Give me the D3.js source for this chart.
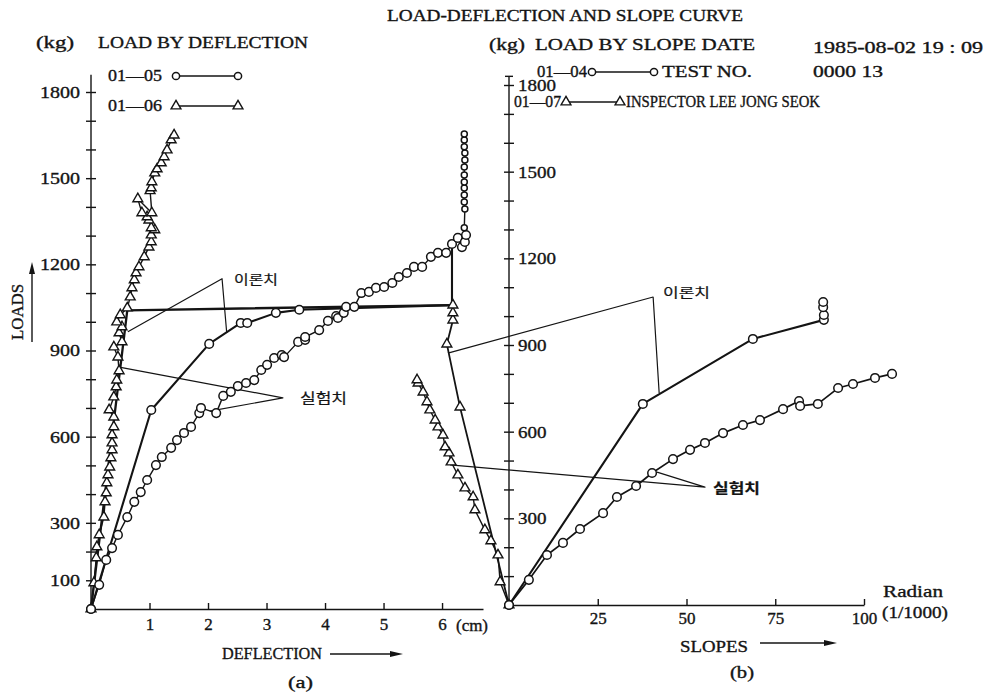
<!doctype html>
<html lang="en">
<head>
<meta charset="UTF-8">
<title>Load-Deflection and Slope Curve</title>
<script src="https://cdnjs.cloudflare.com/ajax/libs/d3/7.8.5/d3.min.js"></script>
<style>
    body { margin: 0; background: #fff; }
    svg { display: block; }
</style>
</head>
<body>
<svg id="chart" width="986" height="692"></svg>
<script>

// ---- tick labels
var leftXTicks = [1, 2, 3, 4, 5, 6];
var leftYLabels = [100, 300, 600, 900, 1200, 1500, 1800];
var rightXTicks = [25, 50, 75, 100];
var rightYLabels = [300, 600, 900, 1200, 1500, 1800];
var minorTicks = d3.range(100, 1900, 100);

// ---- (a) load by deflection  [cm, kg]
var defl0105Test = [[0,0],[0.14,84],[0.26,171],[0.36,212],[0.46,258],[0.62,320],[0.74,373],[0.85,407],[0.96,449],
    [1.11,501],[1.21,529],[1.37,561],[1.47,588],[1.59,613],[1.71,634],[1.85,682],[1.88,700],[2.14,682],[2.26,742],
    [2.39,756],[2.51,776],[2.65,787],[2.79,797],[2.91,832],[3.01,850],[3.13,874],[3.26,884],[3.30,877],[3.54,930],
    [3.66,937],[3.66,947],[3.90,971],[4.05,1003],[4.19,1020],[4.22,1013],[4.32,1031],[4.36,1052],[4.50,1052],
    [4.62,1100],[4.75,1104],[4.87,1118],[5.01,1121],[5.15,1135],[5.26,1156],[5.40,1170],[5.52,1191],[5.66,1191],
    [5.81,1226],[5.93,1240],[6.07,1240],[6.17,1271],[6.27,1292],[6.34,1260],[6.39,1278],[6.41,1302],[6.38,1327],
    [6.39,1393],[6.38,1417],[6.38,1441],[6.38,1466],[6.38,1487],[6.38,1511],[6.38,1539],[6.39,1563],[6.39,1588],
    [6.38,1609],[6.38,1633],[6.38,1654]];
var defl0105Theory = [[0,0],[1.03,693],[2.02,923],[2.56,996],[2.67,996],[3.16,1031],[3.56,1042],[6.17,1058],[6.17,1271]];
var defl0106Test = [[0,0],[0.05,91],[0.09,178],[0.10,216],[0.14,258],[0.22,320],[0.24,373],[0.26,404],[0.27,439],
    [0.29,467],[0.32,494],[0.34,526],[0.36,554],[0.36,578],[0.36,606],[0.39,634],[0.39,668],[0.31,693],[0.39,738],
    [0.43,773],[0.44,797],[0.48,829],[0.46,877],[0.39,912],[0.53,930],[0.48,961],[0.53,982],[0.44,999],[0.50,1024],
    [0.62,1048],[0.67,1086],[0.70,1118],[0.74,1146],[0.77,1170],[0.82,1191],[0.91,1226],[0.99,1260],[1.03,1278],
    [1.03,1302],[1.09,1320],[1.03,1327],[0.99,1354],[0.96,1365],[0.87,1379],[0.80,1428],[1.04,1379],[1.01,1456],
    [1.03,1466],[1.04,1487],[1.09,1518],[1.13,1532],[1.20,1553],[1.25,1574],[1.30,1598],[1.37,1633],[1.42,1650]];
var defl0106Theory = [[0,0],[0.62,1040],[6.17,1058]];

// ---- (b) load by slope  [1/1000 rad, kg]
var slope0104Test = [[0,0],[5.6,87],[10.7,173],[15.2,215],[20.0,263],[26.5,318],[30.4,374],[35.8,412],[40.3,457],
    [46.2,505],[51.0,537],[55.2,561],[60.3,595],[65.9,623],[70.7,640],[77.2,678],[81.7,706],[82.0,689],[87.0,696],
    [92.7,751],[96.9,765],[103.1,786],[107.9,800]];
var slope0104Theory = [[0,0],[37.7,696],[68.7,921],[88.7,987],[88.7,1004],[88.5,1031],[88.5,1049]];
var slope0107Test = [[0,0],[-2.5,80],[-3.1,173],[-5.1,222],[-6.8,260],[-9.6,329],[-10.1,374],[-12.4,405],[-14.4,450],
    [-16.3,495],[-16.9,526],[-18.0,547],[-18.6,588],[-20.0,616],[-20.8,640],[-22.3,675],[-23.1,703],[-24.2,737],
    [-25.6,768],[-25.9,779]];
var slope0107Theory = [[0,0],[-13.8,685],[-17.5,903],[-15.8,986],[-15.8,1011],[-15.8,1038]];

// ---- leader lines for the labels (data units of each panel)
var leftTheoryLeader = [[0.63,965],[2.24,1150],[2.32,961]];
var leftTestLeader = [[0.46,843],[3.28,735],[2.03,689]];
var rightTheoryLeader = [[-17.2,872],[40.6,1066],[42.3,734]];
var rightTestLeader = [[-16.6,485],[55.2,408],[41.7,460]];

var serif = '"Liberation Serif", "Times New Roman", serif';
var korean = '"Noto Sans CJK KR", sans-serif';
var ink = '#141414';

var svg = d3.select('#chart');
svg.append('rect').attr('width', 986).attr('height', 692).attr('fill', '#fff');

var xL = d3.scaleLinear().domain([0, 6.7]).range([91, 483]);
var yL = d3.scaleLinear().domain([0, 1800]).range([609, 92]);
var xR = d3.scaleLinear().domain([0, 100]).range([509, 864]);
var yR = d3.scaleLinear().domain([0, 1800]).range([605, 85]);

function label(x, y, str, w, size, family, weight) {
    var t = svg.append('text')
        .attr('x', x).attr('y', y)
        .attr('font-size', size || 16)
        .attr('font-family', family || serif)
        .attr('fill', ink)
        .attr('stroke', ink).attr('stroke-width', family ? 0.2 : 0.35)
        .text(str);
    if (w) t.attr('textLength', w).attr('lengthAdjust', 'spacingAndGlyphs');
    if (weight) t.attr('font-weight', weight);
    return t;
}

function styleAxis(g) {
    g.attr('font-family', serif).attr('font-size', 17);
    g.selectAll('line, path').attr('stroke', ink).attr('stroke-width', 1.4);
    g.selectAll('text').attr('fill', ink).attr('stroke', ink).attr('stroke-width', 0.35);
}

// ---- axes (a)
var gLY = svg.append('g').attr('transform', 'translate(' + xL(0) + ',0)')
    .call(d3.axisLeft(yL).tickValues(minorTicks).tickSize(5).tickSizeOuter(0)
        .tickFormat(function (d) { return leftYLabels.indexOf(d) >= 0 ? d : ''; }));
gLY.select('.domain').remove();
styleAxis(gLY);
gLY.selectAll('.tick line').attr('x1', 5);
gLY.selectAll('.tick text').attr('x', -11)
    .attr('textLength', function (d) { return leftYLabels.indexOf(d) >= 0 ? String(d).length * 10 : null; })
    .attr('lengthAdjust', 'spacingAndGlyphs');
svg.append('line').attr('x1', xL(0)).attr('x2', xL(0)).attr('y1', yL(0)).attr('y2', yL(1860))
    .attr('stroke', ink).attr('stroke-width', 1.4);

var gLX = svg.append('g').attr('transform', 'translate(0,' + yL(0) + ')')
    .call(d3.axisBottom(xL).tickValues(leftXTicks).tickFormat(d3.format('d'))
        .tickSize(-6).tickSizeOuter(0).tickPadding(9));
styleAxis(gLX);

// ---- axes (b)
var gRY = svg.append('g').attr('transform', 'translate(' + xR(0) + ',0)')
    .call(d3.axisRight(yR).tickValues(minorTicks).tickSize(5).tickSizeOuter(0)
        .tickFormat(function (d) { return rightYLabels.indexOf(d) >= 0 ? d : ''; }));
gRY.select('.domain').remove();
styleAxis(gRY);
gRY.selectAll('.tick line').attr('x1', -5);
gRY.selectAll('.tick text').attr('x', 9)
    .attr('textLength', function (d) { return rightYLabels.indexOf(d) >= 0 ? String(d).length * 9.5 : null; })
    .attr('lengthAdjust', 'spacingAndGlyphs');
svg.append('line').attr('x1', xR(0)).attr('x2', xR(0)).attr('y1', yR(0)).attr('y2', yR(1830))
    .attr('stroke', ink).attr('stroke-width', 1.4);
svg.append('line').attr('x1', xR(0) - 4).attr('x2', xR(0) + 4).attr('y1', yR(1830)).attr('y2', yR(1830))
    .attr('stroke', ink).attr('stroke-width', 1.4);

var gRX = svg.append('g').attr('transform', 'translate(0,' + yR(0) + ')')
    .call(d3.axisBottom(xR).tickValues(rightXTicks).tickSize(-6).tickSizeOuter(0).tickPadding(7));
styleAxis(gRX);

// ---- series
var lineL = d3.line().x(function (d) { return xL(d[0]); }).y(function (d) { return yL(d[1]); });
var lineR = d3.line().x(function (d) { return xR(d[0]); }).y(function (d) { return yR(d[1]); });
var tri = d3.symbol().type(d3.symbolTriangle).size(42)();

function drawLine(data, gen, width) {
    svg.append('path').datum(data).attr('d', gen)
        .attr('fill', 'none').attr('stroke', ink).attr('stroke-width', width)
        .attr('stroke-linejoin', 'round');
}

function drawMarks(data, xs, ys, shape, r) {
    var g = svg.append('g');
    if (shape === 'circle') {
        g.selectAll('circle').data(data).join('circle')
            .attr('cx', function (d) { return xs(d[0]); })
            .attr('cy', function (d) { return ys(d[1]); })
            .attr('r', r || 4.3)
            .attr('fill', '#fff').attr('stroke', ink).attr('stroke-width', 1.5);
    } else {
        g.selectAll('path').data(data).join('path')
            .attr('d', tri)
            .attr('transform', function (d) { return 'translate(' + xs(d[0]) + ',' + ys(d[1]) + ')'; })
            .attr('fill', '#fff').attr('stroke', ink).attr('stroke-width', 1.4);
    }
}

// leader lines
[[leftTheoryLeader, lineL], [leftTestLeader, lineL], [rightTheoryLeader, lineR], [rightTestLeader, lineR]]
    .forEach(function (p) { drawLine(p[0], p[1], 1.2); });

// theoretical lines (heavier)
drawLine(defl0105Theory, lineL, 2.1);
drawLine(defl0106Theory, lineL, 2.3);
drawLine(slope0104Theory, lineR, 2.1);
drawLine(slope0107Theory, lineR, 1.8);

// experimental lines
drawLine(defl0105Test, lineL, 1.4);
drawLine(defl0106Test, lineL, 1.4);
drawLine(slope0104Test, lineR, 1.7);
drawLine(slope0107Test, lineR, 1.4);

drawMarks(defl0106Test, xL, yL, 'tri');
// the last readings of 01-05 are printed smaller in the original plot
drawMarks(defl0105Test.filter(function (d) { return d[1] < 1320; }), xL, yL, 'circle');
drawMarks(defl0105Test.filter(function (d) { return d[1] >= 1320; }), xL, yL, 'circle', 3);
drawMarks(defl0105Theory.slice(0, 7), xL, yL, 'circle');
drawMarks(slope0107Test, xR, yR, 'tri');
drawMarks(slope0107Theory.slice(1), xR, yR, 'tri');
drawMarks(slope0104Test, xR, yR, 'circle');
drawMarks(slope0104Theory, xR, yR, 'circle');

// ---- titles and legend
label(387, 21, 'LOAD-DEFLECTION AND SLOPE CURVE', 356, 16);
label(36, 48, '(kg)', 38, 17);
label(98, 48, 'LOAD BY DEFLECTION', 210, 17);
label(489, 50, '(kg)', 36, 17);
label(535, 50, 'LOAD BY  SLOPE DATE', 220, 17);
label(813, 53, '1985-08-02 19 : 09', 170, 16);
label(813, 77, '0000 13', 70, 16);

function legendItem(x, y, x1, x2, shape, txt, tw) {
    label(x, y + 5, txt, tw, 16);
    svg.append('line').attr('x1', x1).attr('x2', x2).attr('y1', y).attr('y2', y)
        .attr('stroke', ink).attr('stroke-width', 1.7);
    var fake = d3.scaleLinear().domain([0, 1]).range([x1, x2]);
    var same = function () { return y; };
    drawMarks([[0, 0], [1, 0]], fake, same, shape, 3.6);
}
legendItem(108, 76, 176, 238, 'circle', '01\u201405', 54);
legendItem(108, 106, 176, 238, 'tri', '01\u201406', 54);
legendItem(537, 72, 592, 654, 'circle', '01\u201404', 50);
legendItem(514, 102, 566, 620, 'tri', '01\u201407', 47);
label(662, 77, 'TEST NO.', 90, 17);
label(626, 107, 'INSPECTOR LEE JONG SEOK', 194, 17);

// ---- axis titles
svg.append('text').attr('transform', 'translate(23,312) rotate(-90)')
    .attr('text-anchor', 'middle').attr('font-family', serif).attr('font-size', 17).attr('fill', ink)
    .attr('stroke', ink).attr('stroke-width', 0.35)
    .attr('textLength', 56).attr('lengthAdjust', 'spacingAndGlyphs').text('LOADS');
svg.append('line').attr('x1', 32).attr('x2', 32).attr('y1', 342).attr('y2', 272).attr('stroke', ink).attr('stroke-width', 1.4);
svg.append('path').attr('d', 'M32,262L29,274L35,274Z').attr('fill', ink);

label(456, 631, '(cm)', 32, 16);
label(222, 659, 'DEFLECTION', 100, 17);
svg.append('line').attr('x1', 330).attr('x2', 393).attr('y1', 654).attr('y2', 654).attr('stroke', ink).attr('stroke-width', 1.4);
svg.append('path').attr('d', 'M403,654L390,651L390,657Z').attr('fill', ink);
label(288, 688, '(a)', 25, 16);

label(883, 597, 'Radian', 60, 17);
label(882, 618, '(1/1000)', 66, 16);
label(680, 652, 'SLOPES', 68, 17);
svg.append('line').attr('x1', 760).attr('x2', 826).attr('y1', 643).attr('y2', 643).attr('stroke', ink).attr('stroke-width', 1.4);
svg.append('path').attr('d', 'M837,643L824,640L824,646Z').attr('fill', ink);
label(730, 678, '(b)', 24, 16);

// ---- korean callouts
label(234, 284, '이론치', 44, 13, korean);
label(300, 403, '실험치', 47, 14, korean);
label(663, 297, '이론치', 47, 13, korean);
label(713, 493, '실험치', 47, 14, korean, 'bold');

</script>
</body>
</html>
